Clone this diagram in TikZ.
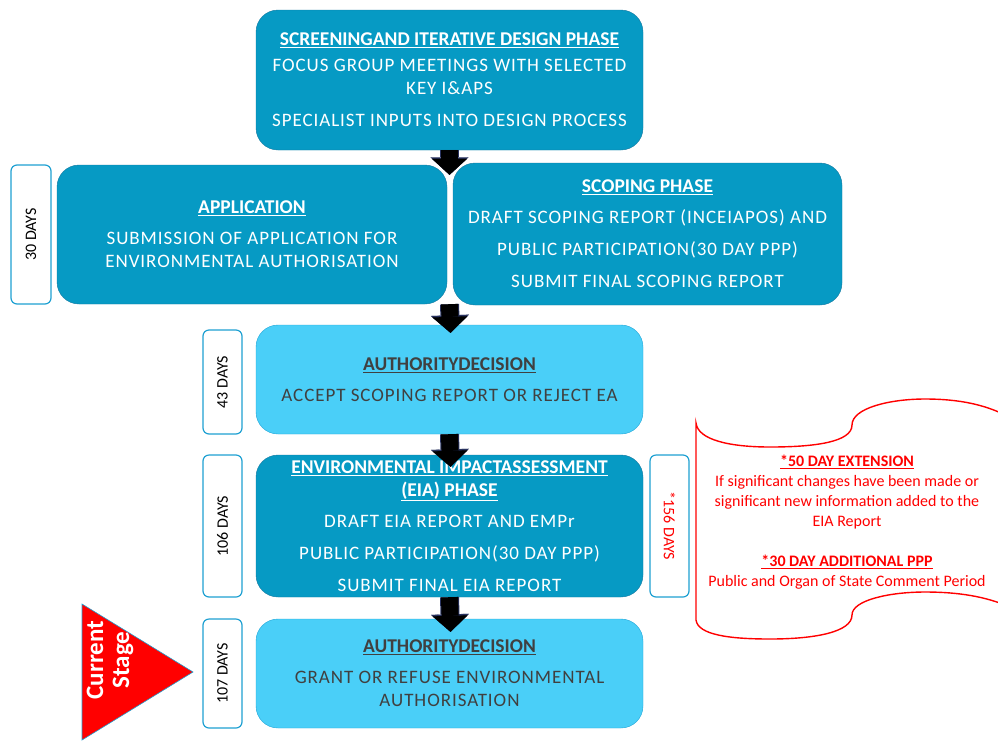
\documentclass[tikz,border=0pt]{standalone}
\usepackage{fontspec}
\setmainfont{Carlito}
\newfontfamily\bodyfont{Carlito}[LetterSpace=5]
\usetikzlibrary{arrows.meta,calc}
\definecolor{phasedark}{RGB}{6,154,196}
\definecolor{phaseedge}{RGB}{20,120,160}
\definecolor{decidelight}{RGB}{74,207,248}
\definecolor{decideedge}{RGB}{30,165,215}
\definecolor{decidetext}{RGB}{64,64,64}
\definecolor{daysedge}{RGB}{30,160,210}
\definecolor{arrowedge}{RGB}{40,50,95}
\newcommand{\phasehead}[1]{{\normalfont\bfseries\fontsize{19.5}{23}\selectfont\underline{#1}}}

\begin{document}
\begin{tikzpicture}[x=1pt,y=-1pt,
    phase/.style={draw=phaseedge,fill=phasedark,rounded corners=22pt,text=white,
      align=center,inner sep=0pt,minimum width=387pt,
      font=\bodyfont\fontsize{19}{23}\selectfont},
    decide/.style={phase,draw=decideedge,fill=decidelight,text=decidetext},
    days/.style={draw=daysedge,line width=1.2pt,fill=white,rounded corners=6pt,
      rotate=90,minimum height=39pt,inner sep=0pt,
      font=\fontsize{16}{18}\selectfont},
    bigarrow/.style={line width=17pt,-{Triangle[width=35pt,length=16pt,line width=0.1pt]},
      preaction={draw=arrowedge,line width=19pt,
        -{Triangle[width=38pt,length=17.5pt,line width=0.1pt]}}}]
  \useasboundingbox (0,0) rectangle (998,740);
  \clip (0,0) rectangle (998,740);

  % phases
  \node[phase,minimum height=140pt] (scr) at (449.5,80)
    {\phasehead{SCREENINGAND ITERATIVE DESIGN PHASE}\\[3pt]
     FOCUS GROUP MEETINGS WITH SELECTED\\ KEY I\&APS\\[9pt]
     SPECIALIST INPUTS INTO DESIGN PROCESS};
  \node[phase,minimum width=390pt,minimum height=139pt] (app) at (252,234.5)
    {\phasehead{APPLICATION}\\[8pt]
     SUBMISSION OF APPLICATION FOR\\ ENVIRONMENTAL AUTHORISATION};
  \node[phase,minimum width=389pt,minimum height=142pt] (scop) at (647.5,234)
    {\phasehead{SCOPING PHASE}\\[8pt]
     DRAFT SCOPING REPORT (INCEIAPOS) AND\\[9pt]
     PUBLIC PARTICIPATION(30 DAY PPP)\\[9pt]
     SUBMIT FINAL SCOPING REPORT};
  \node[decide,minimum height=109pt] (auth1) at (449.5,379.5)
    {\phasehead{AUTHORITYDECISION}\\[8pt]
     ACCEPT SCOPING REPORT OR REJECT EA};
  \node[phase,minimum height=142pt] (eia) at (449.5,526)
    {\phasehead{ENVIRONMENTAL IMPACTASSESSMENT}\\
     \phasehead{(EIA) PHASE}\\[8pt]
     DRAFT EIA REPORT AND EMPr\\[9pt]
     PUBLIC PARTICIPATION(30 DAY PPP)\\[9pt]
     SUBMIT FINAL EIA REPORT};
  \node[decide,minimum height=109pt] (auth2) at (449.5,673.5)
    {\phasehead{AUTHORITYDECISION}\\[8pt]
     GRANT OR REFUSE ENVIRONMENTAL\\ AUTHORISATION};

  % durations
  \node[days,minimum width=139pt,minimum height=40pt] (d30) at (31,234.5) {30 DAYS};
  \node[days,minimum width=104pt] (d43) at (222.5,382) {43 DAYS};
  \node[days,minimum width=142pt] (d106) at (222.5,526) {106 DAYS};
  \node[days,minimum width=142pt,rotate=180,text=red] (d156) at (669.5,526) {*156 DAYS};
  \node[days,minimum width=109pt] (d107) at (222.5,673.5) {107 DAYS};

  % arrows
  \draw[bigarrow] (scr.south) -- ($(scr.south |- app.north)+(0,10)$);
  \draw[bigarrow] (scr.south |- app.south) -- ($(auth1.north)+(1,8)$);
  \draw[bigarrow] (auth1.south) -- ($(eia.north)+(1,12)$);
  \draw[bigarrow] (eia.south) -- ($(auth2.north)+(1,13)$);

  % extension note
  \draw[red,line width=1.4pt,fill=white] (696,423)
    .. controls (698,440) and (730,447) .. (770,447)
    .. controls (815,447) and (852,442) .. (852,425)
    .. controls (852,408) and (890,399) .. (925,399)
    .. controls (960,399) and (985,405) .. (1005,415) -- (1005,605)
    .. controls (985,597) and (960,592) .. (925,592)
    .. controls (890,592) and (852,600) .. (852,615)
    .. controls (852,632) and (815,639) .. (770,639)
    .. controls (730,639) and (698,635) .. (696,620) -- cycle;
  \node[text=red,align=center,font=\fontsize{16}{20}\selectfont] (note) at (847,522)
    {{\bfseries\underline{*50 DAY EXTENSION}}\\
     If significant changes have been made or\\
     significant new information added to the\\
     EIA Report\\[20pt]
     {\bfseries\underline{*30 DAY ADDITIONAL PPP}}\\
     Public and Organ of State Comment Period};

  % current stage marker
  \fill[red,draw=daysedge,line width=0.6pt] (82,604) -- (193,672) -- (82,740) -- cycle;
  \node[rotate=90,text=white,align=center,font=\bfseries\fontsize{25}{26}\selectfont]
    (cur) at (110,660) {Current\\Stage};
\end{tikzpicture}
\end{document}
